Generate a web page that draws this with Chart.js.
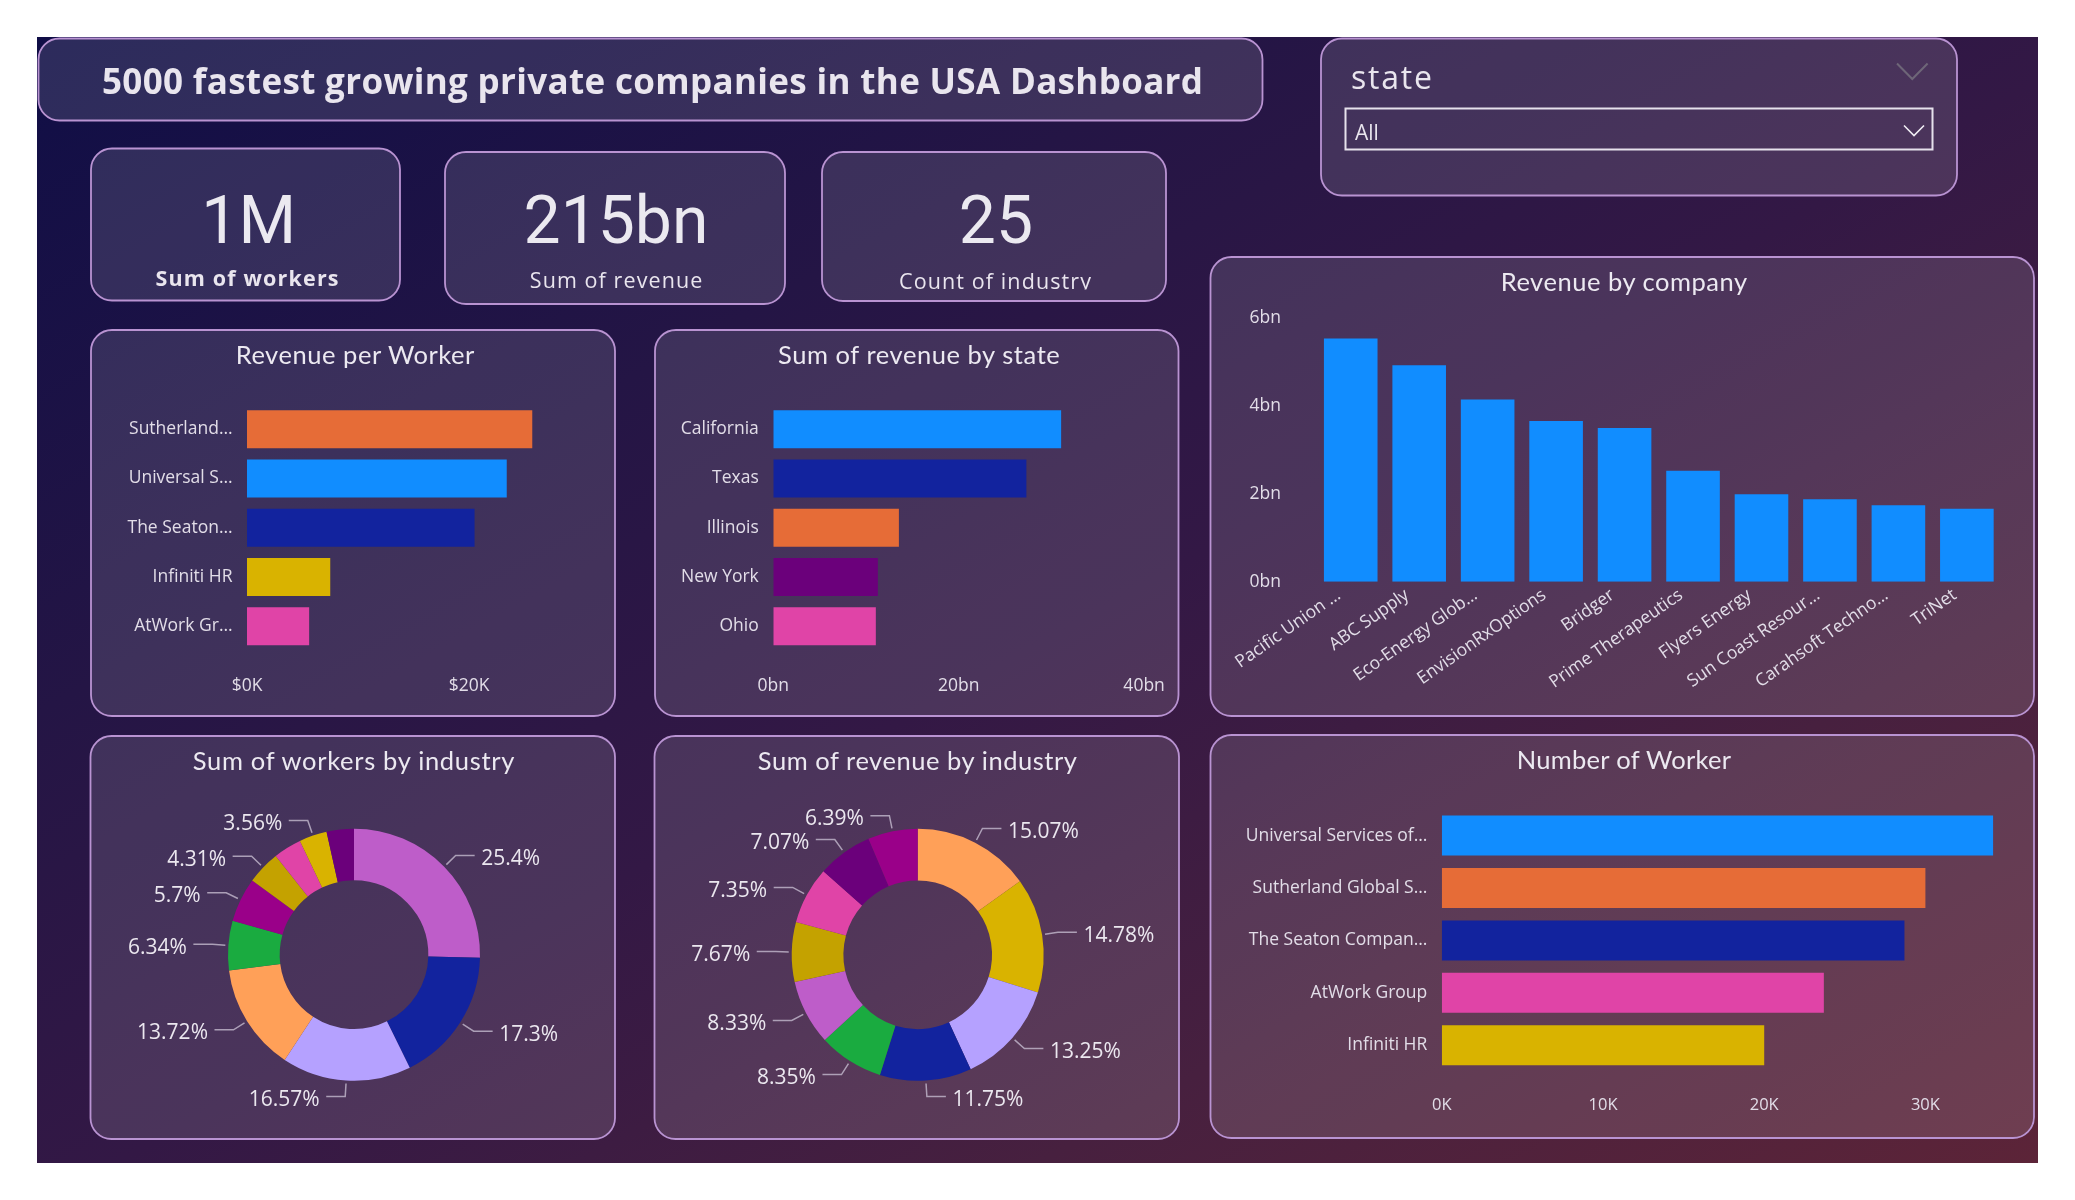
<!DOCTYPE html>
<html><head><meta charset="utf-8">
<script src="https://cdn.jsdelivr.net/npm/chart.js@4.4.1/dist/chart.umd.min.js"></script>
<style>
html,body{margin:0;padding:0;background:#fff;width:2075px;height:1200px;overflow:hidden}
#dash{position:absolute;left:37px;top:37px;width:2001px;height:1126px;
 background:linear-gradient(to bottom right,#100e46 0%,#241545 30%,#331845 52%,#47203f 75%,#5c2438 100%)}
svg{position:absolute;left:0;top:0}
canvas{position:absolute}
</style></head>
<body>
<div id="dash"></div>
<svg id="deco" width="2075" height="1200" xmlns="http://www.w3.org/2000/svg"></svg>
<canvas id="c1"></canvas><canvas id="c2"></canvas><canvas id="c3"></canvas>
<canvas id="c4"></canvas><canvas id="c5"></canvas><canvas id="c6"></canvas>
<svg id="txt" width="2075" height="1200" xmlns="http://www.w3.org/2000/svg"></svg>
<script>
// ---------------- DATA ----------------
const dashTitle = '5000 fastest growing private companies in the USA Dashboard';
const kpiValues = ['1M', '215bn', '25'];
const kpiLabels = ['Sum of workers', 'Sum of revenue', 'Count of industry'];
const slicerField = 'state';
const slicerValue = 'All';

const rpwCompanies = ['Sutherland…', 'Universal S…', 'The Seaton…', 'Infiniti HR', 'AtWork Gr…'];
const rpwValuesK = [25.7, 23.4, 20.5, 7.5, 5.6];

const stateNames = ['California', 'Texas', 'Illinois', 'New York', 'Ohio'];
const stateRevenueBn = [31.05, 27.3, 13.55, 11.28, 11.06];

const companyNames = ['Pacific Union …', 'ABC Supply', 'Eco-Energy Glob…', 'EnvisionRxOptions', 'Bridger',
  'Prime Therapeutics', 'Flyers Energy', 'Sun Coast Resour…', 'Carahsoft Techno…', 'TriNet'];
const companyRevenueBn = [5.54, 4.93, 4.15, 3.66, 3.50, 2.53, 1.99, 1.88, 1.74, 1.66];

const workerCompanies = ['Universal Services of…', 'Sutherland Global S…', 'The Seaton Compan…', 'AtWork Group', 'Infiniti HR'];
const workerCountsK = [34.2, 30.0, 28.7, 23.7, 20.0];

const workersShare = [25.4, 17.3, 16.57, 13.72, 6.34, 5.7, 4.31, 3.6, 3.56, 3.5];
const workersShareLabels = ['25.4%', '17.3%', '16.57%', '13.72%', '6.34%', '5.7%', '4.31%', '', '3.56%', ''];

const revenueShare = [15.07, 14.78, 13.25, 11.75, 8.35, 8.33, 7.67, 7.35, 7.07, 6.39];
const revenueShareLabels = ['15.07%', '14.78%', '13.25%', '11.75%', '8.35%', '8.33%', '7.67%', '7.35%', '7.07%', '6.39%'];

const chartTitles = ['Revenue per Worker', 'Sum of revenue by state', 'Revenue by company',
  'Sum of workers by industry', 'Sum of revenue by industry', 'Number of Worker'];

// ---------------- STYLE ----------------
const C = {blue:'#118DFF', navy:'#12239E', orange:'#E66C37', purple:'#6B007B', pink:'#E044A7',
  yellow:'#D9B300', dyellow:'#C4A200', green:'#1AAB40', orchid:'#BE5DC9', lav:'#B5A1FF',
  peach:'#FFA058', magenta:'#9A0089'};
const rpwColors = [C.orange, C.blue, C.navy, C.yellow, C.pink];
const stateColors = [C.blue, C.navy, C.orange, C.purple, C.pink];
const workerColors = [C.blue, C.orange, C.navy, C.pink, C.yellow];
const workersDonutColors = [C.orchid, C.navy, C.lav, C.peach, C.green, C.magenta, C.dyellow, C.pink, C.yellow, C.purple];
const revenueDonutColors = [C.peach, C.yellow, C.lav, C.navy, C.green, C.orchid, C.dyellow, C.pink, C.purple, C.magenta];
const TXT = '#e9e5ee';
const TICK = '#e2dde8';
const TICKFONT = '"Open Sans", "Noto Sans", sans-serif';

// ---------------- DECORATION (panels) ----------------
const NS = 'http://www.w3.org/2000/svg';
function el(parent, tag, attrs, text) {
  const e = document.createElementNS(NS, tag);
  for (const k in attrs) e.setAttribute(k, attrs[k]);
  if (text !== undefined) e.textContent = text;
  parent.appendChild(e); return e;
}
const deco = document.getElementById('deco');
const panels = [
  [38.5, 38.5, 1224, 82], [91, 148.5, 309, 152], [445, 152, 340, 152], [822, 152, 344, 149],
  [1321, 38.5, 636, 157], [91, 330, 524, 386], [655, 330, 523.5, 386], [1210.5, 257, 823.5, 459],
  [90.5, 736, 524.5, 403], [654.5, 736, 524.5, 403], [1210.5, 735, 823.5, 403]
];
panels.forEach(([x, y, w, h]) => el(deco, 'rect', {x, y, width: w, height: h, rx: 21, ry: 21,
  fill: 'rgba(255,255,255,0.12)', stroke: '#b993d2', 'stroke-width': 1.8}));
// slicer dropdown
el(deco, 'rect', {x: 1345.5, y: 108.5, width: 587, height: 41, fill: 'none', stroke: '#e6e1ec', 'stroke-width': 2});
el(deco, 'polyline', {points: '1904,125.5 1914,135.5 1924,125.5', fill: 'none', stroke: '#f0edf4', 'stroke-width': 1.6});
el(deco, 'polyline', {points: '1897,63.5 1912.3,79 1927.6,63.5', fill: 'none', stroke: '#6e6678', 'stroke-width': 2});

// ---------------- STATIC TEXT ----------------
const txt = document.getElementById('txt');
const defs = el(txt, 'defs', {});
const cp = el(defs, 'clipPath', {id: 'clipInd'});
el(cp, 'rect', {x: 820, y: 240, width: 350, height: 49.5});
function T(str, x, y, size, opts = {}) {
  const a = {x, y, 'font-size': size, fill: opts.fill || TXT,
    'font-family': opts.family || 'Lato, sans-serif', 'font-weight': opts.weight || 400,
    'text-anchor': opts.anchor || 'middle'};
  if (opts.len) { a.textLength = opts.len; a.lengthAdjust = opts.adj || 'spacing'; }
  if (opts.clip) a['clip-path'] = 'url(#' + opts.clip + ')';
  return el(txt, 'text', a, str);
}
const OS = '"Open Sans", sans-serif';
T(dashTitle, 652.5, 94, 35, {weight: 700, family: OS, len: 1101});
const kpiX = [248.7, 616, 995.9];
kpiValues.forEach((v, i) => T(v, kpiX[i], 243, 66, {family: 'Roboto, sans-serif', fill: '#ebe9f0'}));
T(kpiLabels[0], 247, 285.5, 21.5, {weight: 700, family: OS, len: 183});
T(kpiLabels[1], 616, 288, 21.5, {family: OS, len: 172.5});
T(kpiLabels[2], 995, 288.5, 21.5, {family: OS, len: 192, clip: 'clipInd'});
T(slicerField, 1351, 89, 32, {anchor: 'start', family: OS, len: 81});
T(slicerValue, 1355, 140, 21, {anchor: 'start', family: OS});
const titlePos = [[355, 364.3, 238.6], [918.9, 364.3, 281.7], [1623.9, 290.7, 246.4],
  [353.6, 770, 321.6], [917.4, 770, 319.2], [1623.9, 769, 214.3]];
chartTitles.forEach((t, i) => T(t, titlePos[i][0], titlePos[i][1], 25.5, {len: titlePos[i][2], fill: '#ece9f1'}));

// ---------------- CHARTS ----------------
Chart.defaults.color = TICK;
Chart.defaults.font.family = TICKFONT;

function place(id, left, top, w, h) {
  const c = document.getElementById(id);
  c.width = w; c.height = h;
  c.style.left = left + 'px'; c.style.top = top + 'px';
  c.style.width = w + 'px'; c.style.height = h + 'px';
  return c;
}
const noGrid = {display: false, drawTicks: false};
const noBorder = {display: false};
const basePlugins = {legend: {display: false}, tooltip: {enabled: false}};
function zeroPad(s) { s.paddingLeft = 0; s.paddingRight = 0; s.paddingTop = 0; s.paddingBottom = 0; }

function hbar(id, box, g, labels, values, colors, max, step, fmt, fsx, fsy, catPct) {
  const c = place(id, ...box);
  return new Chart(c, {
    type: 'bar',
    data: {labels, datasets: [{data: values, backgroundColor: colors, borderWidth: 0,
      categoryPercentage: catPct, barPercentage: 1}]},
    options: {
      indexAxis: 'y', responsive: false, animation: false, devicePixelRatio: 1,
      layout: {padding: {left: 0, right: g.pr, top: g.pt, bottom: g.pb}},
      plugins: basePlugins,
      scales: {
        x: {min: 0, max, grid: noGrid, border: noBorder,
          ticks: {stepSize: step, includeBounds: false, padding: g.xpad, maxRotation: 0,
            callback: v => (v % step === 0 ? fmt(v) : ''), font: {size: fsx}, color: TICK},
          afterFit(s) { s.height = 40; zeroPad(s); }},
        y: {grid: noGrid, border: noBorder,
          ticks: {padding: g.ypad, font: {size: fsy}, color: TICK, autoSkip: false},
          afterFit(s) { s.width = g.yw; zeroPad(s); }}
      }
    }
  });
}

// Revenue per Worker
hbar('c1', [91, 330, 524, 386], {pr: 35, pt: 74.5, pb: 25, xpad: 24.5, ypad: 14.5, yw: 156},
  rpwCompanies, rpwValuesK, rpwColors, 30, 20, v => '$' + v + 'K', 17.5, 17.5, 0.771);
// Sum of revenue by state
hbar('c2', [655, 330, 523, 386], {pr: 33.9, pt: 74.5, pb: 25, xpad: 24.5, ypad: 14.5, yw: 118.3},
  stateNames, stateRevenueBn, stateColors, 40, 20, v => v + 'bn', 17.5, 17.5, 0.771);
// Number of Worker
hbar('c4', [1210, 735, 824, 403], {pr: 28, pt: 74.3, pb: 26.5, xpad: 24, ypad: 14.5, yw: 231.8},
  workerCompanies, workerCountsK, workerColors, 35, 10, v => v + 'K', 16.5, 17.5, 0.763);

// Revenue by company
(function () {
  const c = place('c3', 1210, 257, 824, 459);
  new Chart(c, {
    type: 'bar',
    data: {labels: companyNames, datasets: [{data: companyRevenueBn, backgroundColor: C.blue, borderWidth: 0,
      categoryPercentage: 0.783, barPercentage: 1}]},
    options: {
      responsive: false, animation: false, devicePixelRatio: 1,
      layout: {padding: {left: 0, right: 32.9, top: 61.3, bottom: 24.3}},
      plugins: basePlugins,
      scales: {
        x: {grid: noGrid, border: noBorder,
          ticks: {minRotation: 35, maxRotation: 35, autoSkip: false, padding: 3, labelOffset: -12,
            font: {size: 17.5}, color: TICK},
          afterFit(s) { s.height = 110; zeroPad(s); }},
        y: {min: 0, max: 6, grid: noGrid, border: noBorder,
          ticks: {stepSize: 2, padding: 35.5, callback: v => v + 'bn', font: {size: 17.5}, color: TICK},
          afterFit(s) { s.width = 106.5; zeroPad(s); }}
      }
    }
  });
})();

// Donut label plugin (leader lines from each slice)
const donutLabels = {
  id: 'donutLabels',
  afterDatasetsDraw(chart, args, opts) {
    const labels = opts.labels; if (!labels) return;
    const ctx = chart.ctx; const meta = chart.getDatasetMeta(0);
    ctx.save();
    ctx.font = '21px "Open Sans", sans-serif'; ctx.textBaseline = 'middle';
    meta.data.forEach((arc, i) => {
      const t = labels[i]; if (!t) return;
      const p = arc.getProps(['x', 'y', 'startAngle', 'endAngle', 'outerRadius'], true);
      const mid = (p.startAngle + p.endAngle) / 2;
      const cs = Math.cos(mid), sn = Math.sin(mid);
      const r0 = p.outerRadius + 3, r1 = p.outerRadius + 16;
      const x0 = p.x + cs * r0, y0 = p.y + sn * r0;
      const x1 = p.x + cs * r1, y1 = p.y + sn * r1;
      const dir = cs >= 0 ? 1 : -1;
      const x2 = x1 + dir * 19;
      ctx.strokeStyle = 'rgba(196,186,206,0.8)'; ctx.lineWidth = 1.5;
      ctx.beginPath(); ctx.moveTo(x0, y0); ctx.lineTo(x1, y1); ctx.lineTo(x2, y1); ctx.stroke();
      ctx.fillStyle = '#ebe7ef'; ctx.textAlign = dir > 0 ? 'left' : 'right';
      ctx.fillText(t, x2 + dir * 6.5, y1 + 3.5);
    });
    ctx.restore();
  }
};

function donut(id, box, pad, values, colors, labels) {
  const c = place(id, ...box);
  return new Chart(c, {
    type: 'doughnut',
    data: {datasets: [{data: values, backgroundColor: colors, borderWidth: 0}]},
    options: {
      responsive: false, animation: false, devicePixelRatio: 1, cutout: '59%',
      layout: {padding: pad},
      plugins: {...basePlugins, donutLabels: {labels}}
    },
    plugins: [donutLabels]
  });
}
donut('c5', [90, 736, 525, 403], {left: 138, right: 135, top: 92.7, bottom: 58.3},
  workersShare, workersDonutColors, workersShareLabels);
donut('c6', [654, 736, 525, 403], {left: 137.7, right: 135.3, top: 92.8, bottom: 58.2},
  revenueShare, revenueDonutColors, revenueShareLabels);
</script>
</body></html>
